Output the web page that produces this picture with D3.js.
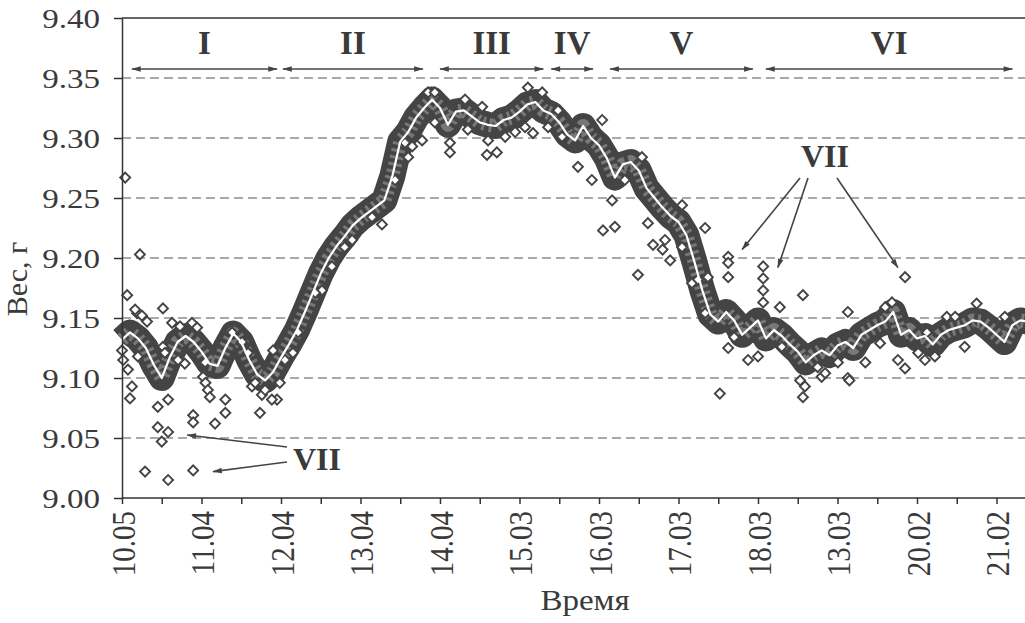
<!DOCTYPE html>
<html>
<head>
<meta charset="utf-8">
<script src="https://cdn.jsdelivr.net/npm/d3@7"></script>
<style>
  body { margin: 0; background: #fff; }
  svg text { font-family: "Liberation Serif", "Times New Roman", serif; }
  .axis path, .axis line { stroke: #333; stroke-width: 1.5; }
  .grid { stroke: #555; stroke-width: 1.2; stroke-dasharray: 9 5; }
  .tick-label { fill: #3a3a3a; }
  .roman { fill: #3a3a3a; font-weight: bold; }
  .arrow { stroke: #444; stroke-width: 1.6; fill: none; }
</style>
</head>
<body>
<svg width="1025" height="623"></svg>
<script>
var width = 1025,
    height = 623;

// weight of the running mean, one value every 2 samples
var meanWeight = [
  9.132, 9.138, 9.133, 9.125, 9.111, 9.100, 9.117, 9.130, 9.135, 9.130,
  9.122, 9.112, 9.110, 9.125, 9.137, 9.130, 9.115, 9.103, 9.098, 9.105,
  9.117, 9.128, 9.140, 9.155, 9.171, 9.187, 9.200, 9.210, 9.218, 9.227,
  9.233, 9.238, 9.243, 9.248, 9.268, 9.297, 9.305, 9.317, 9.325, 9.332,
  9.325, 9.311, 9.322, 9.323, 9.318, 9.313, 9.311, 9.310, 9.315, 9.317,
  9.322, 9.328, 9.330, 9.323, 9.320, 9.313, 9.303, 9.298, 9.310, 9.300,
  9.294, 9.283, 9.267, 9.278, 9.280, 9.273, 9.258, 9.250, 9.242, 9.235,
  9.230, 9.219, 9.197, 9.173, 9.153, 9.147, 9.155, 9.148, 9.136, 9.142,
  9.148, 9.133, 9.140, 9.135, 9.128, 9.122, 9.113, 9.119, 9.123, 9.119,
  9.127, 9.130, 9.125, 9.136, 9.140, 9.144, 9.147, 9.155, 9.136, 9.140,
  9.133, 9.135, 9.128, 9.136, 9.140, 9.142, 9.144, 9.148, 9.147, 9.142,
  9.136, 9.130, 9.144, 9.148, 9.147
];
var meanStep = 2;

// single measurements: [sample, weight]
var measurements = [
  [0.8, 9.267], [4.5, 9.203], [1.3, 9.169], [10.3, 9.158], [3.8, 9.154],
  [5.0, 9.152], [6.3, 9.147], [12.6, 9.146], [17.6, 9.146], [18.9, 9.142],
  [0.0, 9.123], [0.3, 9.115], [1.5, 9.107], [2.5, 9.093], [2.0, 9.083],
  [9.0, 9.076], [11.6, 9.082], [9.0, 9.059], [11.6, 9.055], [10.0, 9.047],
  [17.9, 9.069], [17.9, 9.063], [23.4, 9.062], [26.0, 9.071], [20.4, 9.101],
  [21.0, 9.096], [21.6, 9.090], [22.1, 9.084], [26.0, 9.082], [34.7, 9.071],
  [5.8, 9.022], [11.6, 9.015], [17.9, 9.023], [10.3, 9.126], [10.8, 9.121],
  [15.8, 9.112], [30.0, 9.129], [31.7, 9.121], [32.7, 9.093], [35.2, 9.086],
  [39.0, 9.082], [38.0, 9.123], [43.0, 9.121], [39.7, 9.096], [37.7, 9.082],
  [36.0, 9.090], [50.3, 9.173], [56.0, 9.209], [65.4, 9.228], [72.0, 9.284],
  [73.0, 9.293], [82.5, 9.296], [82.5, 9.288], [91.8, 9.286], [94.3, 9.288],
  [103.4, 9.304], [121.0, 9.223], [124.0, 9.226], [129.8, 9.186], [123.3, 9.248],
  [137.9, 9.198], [133.6, 9.211], [136.0, 9.207], [146.7, 9.225], [140.9, 9.244],
  [143.4, 9.179], [147.4, 9.184], [152.5, 9.201], [152.5, 9.196], [152.5, 9.184],
  [161.3, 9.193], [161.3, 9.183], [161.3, 9.173], [161.3, 9.163], [171.3, 9.169],
  [165.5, 9.159], [182.6, 9.155], [150.4, 9.087], [157.5, 9.115], [171.3, 9.084],
  [171.8, 9.093], [170.6, 9.098], [175.0, 9.109], [176.0, 9.101], [182.6, 9.100],
  [154.0, 9.134], [152.5, 9.125], [197.0, 9.184], [193.7, 9.163], [215.0, 9.162],
  [197.0, 9.108], [195.2, 9.115], [202.0, 9.115], [204.5, 9.118], [202.5, 9.138],
  [207.5, 9.151], [190.7, 9.129], [187.0, 9.113], [183.0, 9.098],
  // along the band edges
  [77.0, 9.338], [78.7, 9.338], [86.3, 9.332], [90.6, 9.326], [102.1, 9.342],
  [105.7, 9.338], [109.7, 9.323], [75.5, 9.298], [78.7, 9.313], [87.0, 9.307],
  [92.1, 9.298], [96.4, 9.301], [98.9, 9.305], [101.4, 9.309], [107.2, 9.309],
  [110.7, 9.301], [41.0, 9.115], [44.3, 9.138], [48.6, 9.171], [52.8, 9.193],
  [57.9, 9.215], [62.9, 9.234], [68.7, 9.265], [71.2, 9.296], [114.7, 9.276],
  [118.2, 9.265], [126.5, 9.265], [132.3, 9.229], [136.6, 9.215], [140.9, 9.209],
  [144.9, 9.182], [146.7, 9.154], [130.8, 9.284], [120.8, 9.315], [160.0, 9.118],
  [166.0, 9.126], [176.9, 9.104], [180.1, 9.113], [192.0, 9.159], [209.6, 9.151],
  [222.1, 9.151], [200.3, 9.121], [212.0, 9.126], [3.3, 9.157], [14.6, 9.143],
  [27.7, 9.138], [30.2, 9.130], [4.0, 9.118], [14.1, 9.115], [20.9, 9.113],
  [33.5, 9.096]
];

var xLabels = ["10.05", "11.04", "12.04", "13.04", "14.04", "15.03",
               "16.03", "17.03", "18.03", "13.03", "20.02", "21.02"];
var yTicks = [9.00, 9.05, 9.10, 9.15, 9.20, 9.25, 9.30, 9.35, 9.40];

// periods I..VI: [label, first sample, last sample]
var periods = [
  ["I", 2.5, 39], ["II", 40.5, 75.7], ["III", 80, 106],
  ["IV", 108, 118.5], ["V", 122.8, 158.7], ["VI", 162, 224]
];

// outliers pointed at by "VII": [sample, weight]
var outlierTargetsTop = [[156, 9.207], [165, 9.192], [195.2, 9.192]];
var outlierTargetsBottom = [[16.4, 9.0525], [22.9, 9.022]];

var serif = "'Liberation Serif', 'Times New Roman', serif";

var x = d3.scaleLinear().domain([0, 228]).range([122, 1028.3]);
var y = d3.scaleLinear().domain([9.0, 9.4]).range([498, 18]);

var svg = d3.select("svg");

svg.append("defs").append("marker")
    .attr("id", "head")
    .attr("viewBox", "0 -5 12 10")
    .attr("refX", 11)
    .attr("refY", 0)
    .attr("markerWidth", 12)
    .attr("markerHeight", 8)
    .attr("markerUnits", "userSpaceOnUse")
    .attr("orient", "auto-start-reverse")
  .append("path")
    .attr("d", "M0,-3.5L12,0L0,3.5Z")
    .attr("fill", "#444");

// dashed grid
svg.selectAll(".grid")
    .data(yTicks.slice(1, -1))
  .enter().append("line")
    .attr("class", "grid")
    .attr("x1", x(0))
    .attr("x2", width)
    .attr("y1", function(d) { return y(d); })
    .attr("y2", function(d) { return y(d); });

// frame top
svg.append("line")
    .attr("x1", x(0)).attr("x2", width)
    .attr("y1", y(9.4)).attr("y2", y(9.4))
    .attr("stroke", "#333").attr("stroke-width", 1.5);

// dark band and white mean line
var line = d3.line()
    .x(function(d, i) { return x(i * meanStep); })
    .y(function(d) { return y(d); });

svg.append("path")
    .datum(meanWeight)
    .attr("d", line)
    .attr("fill", "none")
    .attr("stroke", "#444")
    .attr("stroke-width", 26)
    .attr("stroke-linejoin", "round");

svg.append("path")
    .datum(meanWeight)
    .attr("d", line)
    .attr("fill", "none")
    .attr("stroke", "#777")
    .attr("stroke-width", 14)
    .attr("stroke-dasharray", "3 4")
    .attr("stroke-linejoin", "round");

var diamond = d3.symbol().type(d3.symbolSquare).size(50);

svg.selectAll(".pt")
    .data(measurements)
  .enter().append("path")
    .attr("class", "pt")
    .attr("d", diamond)
    .attr("transform", function(d) { return "translate(" + x(d[0]) + "," + y(d[1]) + ") rotate(45)"; })
    .attr("fill", "#fff")
    .attr("stroke", "#444")
    .attr("stroke-width", 1.9);

svg.append("path")
    .datum(meanWeight)
    .attr("d", line)
    .attr("fill", "none")
    .attr("stroke", "#fff")
    .attr("stroke-width", 2.2)
    .attr("stroke-linejoin", "round");

// axes
var yAxis = svg.append("g")
    .attr("class", "axis")
    .attr("transform", "translate(" + x(0) + ",0)")
    .call(d3.axisLeft(y).tickValues(yTicks).tickSize(8).tickSizeOuter(0)
      .tickFormat(d3.format(".2f")));

yAxis.attr("font-family", null);

yAxis.selectAll("text")
    .attr("class", "tick-label")
    .attr("x", 0)
    .attr("dy", "0.35em")
    .attr("transform", "translate(-22,0) scale(1.18,1)")
    .style("font-size", "28px")
    .style("font-family", serif);

var xAxis = svg.append("g")
    .attr("class", "axis")
    .attr("transform", "translate(0," + y(9.0) + ")")
    .call(d3.axisBottom(x).tickValues(d3.range(0, 228, 10)).tickSize(6).tickSizeOuter(0)
      .tickFormat(function(d) { return d % 20 === 0 ? xLabels[d / 20] : ""; }));

xAxis.attr("font-family", null);
xAxis.select(".domain").attr("d", "M" + x(0) + ",0H" + width);

xAxis.selectAll("text")
    .attr("class", "tick-label")
    .attr("x", 0)
    .attr("y", 0)
    .attr("dy", 0)
    .attr("text-anchor", "end")
    .attr("transform", "translate(12,13) rotate(-90) scale(1,1.18)")
    .style("font-size", "29px")
    .style("font-family", serif);

// axis titles
svg.append("text")
    .attr("class", "tick-label")
    .attr("transform", "translate(27,279) rotate(-90)")
    .attr("text-anchor", "middle")
    .style("font-size", "30px")
    .style("font-family", serif)
    .text("Вес, г");

svg.append("text")
    .attr("class", "tick-label")
    .attr("transform", "translate(585,610) scale(1.1,1)")
    .attr("text-anchor", "middle")
    .style("font-size", "30px")
    .style("font-family", serif)
    .text("Время");

// period arrows
var arrowY = 69;

svg.selectAll(".period")
    .data(periods)
  .enter().append("line")
    .attr("class", "arrow")
    .attr("x1", function(d) { return x(d[1]); })
    .attr("x2", function(d) { return x(d[2]); })
    .attr("y1", arrowY)
    .attr("y2", arrowY)
    .attr("marker-start", "url(#head)")
    .attr("marker-end", "url(#head)");

svg.selectAll(".roman-p")
    .data(periods)
  .enter().append("text")
    .attr("class", "roman")
    .attr("x", function(d) { return (x(d[1]) + x(d[2])) / 2; })
    .attr("y", 54)
    .attr("text-anchor", "middle")
    .style("font-size", "33px")
    .style("font-family", serif)
    .text(function(d) { return d[0]; });

// VII annotations
svg.append("text")
    .attr("class", "roman")
    .attr("x", 825)
    .attr("y", 167)
    .attr("text-anchor", "middle")
    .style("font-size", "32px")
    .style("font-family", serif)
    .text("VII");

svg.selectAll(".vii-top")
    .data(outlierTargetsTop)
  .enter().append("line")
    .attr("class", "arrow")
    .attr("x1", function(d, i) { return [800, 808, 837][i]; })
    .attr("y1", 178)
    .attr("x2", function(d) { return x(d[0]); })
    .attr("y2", function(d) { return y(d[1]); })
    .attr("marker-end", "url(#head)");

svg.append("text")
    .attr("class", "roman")
    .attr("x", 293)
    .attr("y", 470)
    .style("font-size", "32px")
    .style("font-family", serif)
    .text("VII");

svg.selectAll(".vii-bottom")
    .data(outlierTargetsBottom)
  .enter().append("line")
    .attr("class", "arrow")
    .attr("x1", 287)
    .attr("y1", function(d, i) { return [447, 462][i]; })
    .attr("x2", function(d) { return x(d[0]); })
    .attr("y2", function(d) { return y(d[1]); })
    .attr("marker-end", "url(#head)");
</script>
</body>
</html>
